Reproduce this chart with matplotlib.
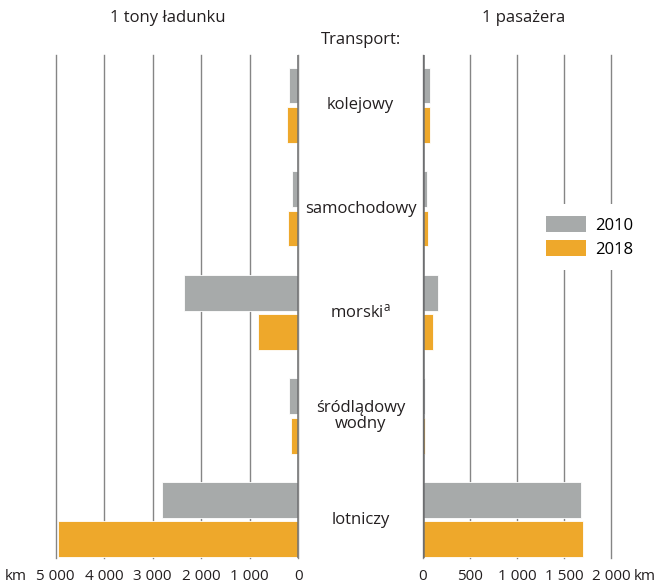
import matplotlib
matplotlib.use("Agg")
import matplotlib.pyplot as plt
import matplotlib.transforms as mtransforms
import numpy as np

plt.rcParams['font.family'] = ['Open Sans', 'DejaVu Sans']
plt.rcParams['mathtext.default'] = 'regular'

# dane: emisja na 1 km
categories = ['kolejowy', 'samochodowy', 'morski$^{a}$', 'śródlądowy\nwodny', 'lotniczy']
freight_2010 = [200, 140, 2360, 190, 2800]
freight_2018 = [230, 210, 830, 145, 4950]
passenger_2010 = [75, 45, 160, 22, 1680]
passenger_2018 = [75, 55, 110, 22, 1705]
years = ['2010', '2018']
freight_ticks = [0, 1000, 2000, 3000, 4000, 5000]
freight_labels = ['0', '1 000', '2 000', '3 000', '4 000', '5 000']
passenger_ticks = [0, 500, 1000, 1500, 2000]
passenger_labels = ['0', '500', '1 000', '1 500', '2 000']

GRAY = '#a7aaaa'
ORANGE = '#eea82b'
GRID = '#858585'
ZERO = '#6d6e70'
TXT = '#231f20'
FS = 12

W, H = 660, 587
fig = plt.figure(figsize=(W / 100, H / 100), dpi=100)

def px_axes(x0, x1, ytop, ybot):
    return fig.add_axes([x0 / W, 1 - ybot / H, (x1 - x0) / W, (ybot - ytop) / H])

axL = px_axes(55.6, 298.3, 55, 558)
axR = px_axes(422.7, 611.0, 55, 558)

y = np.arange(len(categories))
bh = 0.345
off = 0.19

for ax, v10, v18 in [(axL, freight_2010, freight_2018), (axR, passenger_2010, passenger_2018)]:
    ax.barh(y - off, v10, height=bh, color=GRAY, edgecolor='white', linewidth=0.6, zorder=3, label=years[0])
    ax.barh(y + off, v18, height=bh, color=ORANGE, edgecolor='white', linewidth=0.6, zorder=3, label=years[1])
    ax.set_ylim(4.371, -0.485)
    ax.set_yticks([])
    for s in ax.spines.values():
        s.set_visible(False)
    ax.grid(axis='x', color=GRID, linewidth=1.0, zorder=1)
    ax.axvline(0, color=ZERO, linewidth=1.8, zorder=4)
    ax.tick_params(axis='x', length=0, pad=8, labelsize=11, labelcolor=TXT)

axL.set_xlim(5000, 0)
axL.set_xticks(freight_ticks)
axL.set_xticklabels(freight_labels)
axR.set_xlim(0, 2000)
axR.set_xticks(passenger_ticks)
axR.set_xticklabels(passenger_labels)
for ax in (axL, axR):
    for gl in ax.get_xgridlines():
        gl.set_clip_on(False)

# etykiety kategorii na środku
tr = mtransforms.blended_transform_factory(fig.transFigure, axL.transData)
for i, c in enumerate(categories):
    fig.text(360.5 / W, i, c, transform=tr, ha='center', va='center',
             fontsize=FS, color=TXT, linespacing=0.95)

fig.text(168 / W, 1 - 18 / H, '1 tony ładunku', ha='center', va='center', fontsize=FS, color=TXT)
fig.text(524 / W, 1 - 18 / H, '1 pasażera', ha='center', va='center', fontsize=FS, color=TXT)
fig.text(360.5 / W, 1 - 40 / H, 'Transport:', ha='center', va='center', fontsize=FS, color=TXT)
fig.text(16 / W, 1 - 576 / H, 'km', ha='center', va='center', fontsize=11, color=TXT)
fig.text(645 / W, 1 - 576 / H, 'km', ha='center', va='center', fontsize=11, color=TXT)

handles, labels = axR.get_legend_handles_labels()
leg = fig.legend(handles, labels, loc='center', bbox_to_anchor=(590 / W, 1 - 237 / H),
                 frameon=True, facecolor='white', edgecolor='none', framealpha=1,
                 fancybox=False, fontsize=FS, handlelength=2.35, handleheight=1.1,
                 handletextpad=0.6, labelspacing=0.4, borderpad=0.7)
for h in leg.legend_handles:
    h.set_edgecolor('none')

fig.savefig('out.png', dpi=100, facecolor='white')
